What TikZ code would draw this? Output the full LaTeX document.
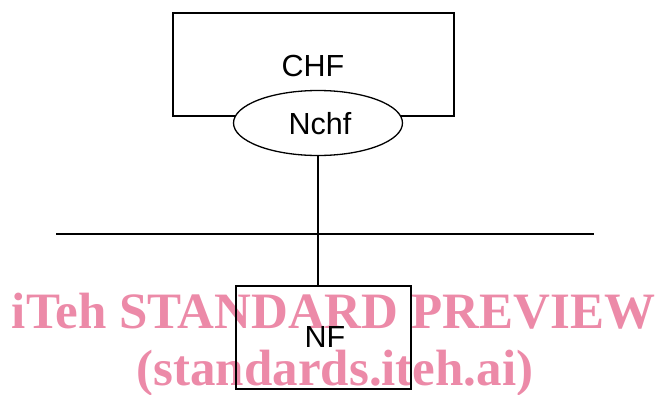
\documentclass[tikz,border=0pt]{standalone}
\usepackage{fontspec}
\setmainfont{Liberation Sans}
\newfontfamily\wmfont{Liberation Serif}
\usetikzlibrary{shapes.geometric}
\definecolor{wmpink}{RGB}{236,138,168}
\begin{document}
\begin{tikzpicture}[x=1pt,y=-1pt,
  lbl/.style={font=\fontsize{30.5}{34}\selectfont},
  wm/.style={text=wmpink,font=\wmfont\bfseries\fontsize{51}{56}\selectfont,anchor=base}]
\useasboundingbox (0,0) rectangle (662,394);
% watermark
\node[wm] (wm1) at (333.5,328) {iTeh STANDARD PREVIEW};
\node[wm] (wm2) at (335,385) {(standards.iteh.ai)};
% CHF box
\draw[line width=1.3pt] (173,13) rectangle (454,116);
\node[lbl] (chf) at (313,66) {CHF};
\node[draw,fill=white,line width=1.3pt,ellipse,minimum width=169pt,minimum height=65pt,inner sep=0pt] (nchf) at (318,123) {};
\node[lbl] (nchft) at (320,124) {Nchf};
% bus
\coordinate (busL) at (56,234);
\coordinate (busR) at (594,234);
\draw[line width=1.3pt] (busL) -- (busR);
% NF box
\draw[line width=1.3pt] (236,286) rectangle (411,389);
\coordinate (nftop) at (318,286);
\node[lbl] (nf) at (325,337) {NF};
\draw[line width=1.3pt] (nchf.south) -- (nftop);
\end{tikzpicture}
\end{document}
